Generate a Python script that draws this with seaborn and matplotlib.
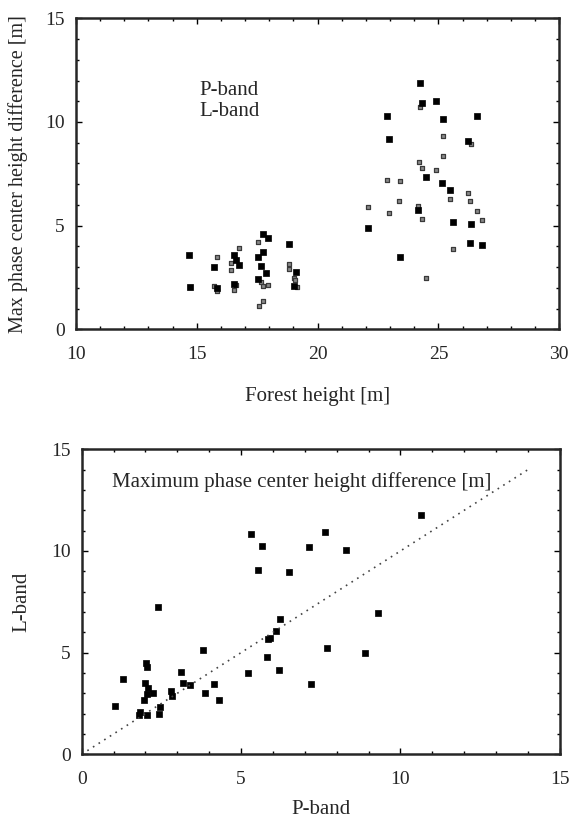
import numpy as np
import pandas as pd
import seaborn as sns
from matplotlib import pyplot as plt
from matplotlib.ticker import MultipleLocator

"""
# Data read off the reference
"""
# top: max phase center height difference vs forest height
forest_l = [14.69, 14.72, 15.71, 15.83, 16.53, 16.63, 16.75, 16.53, 17.76,
            17.96, 17.55, 17.73, 17.65, 17.86, 17.55, 18.82, 19.11, 19.01,
            24.23, 24.30, 24.89, 22.89, 25.17, 26.59, 22.95, 26.23, 24.48,
            25.16, 25.47, 24.17, 22.10, 25.62, 26.34, 26.29, 26.80, 23.39]
l_top = [3.60, 2.03, 3.02, 1.99, 3.58, 3.34, 3.10, 2.19, 4.60,
         4.39, 3.50, 3.74, 3.07, 2.72, 2.41, 4.10, 2.76, 2.10,
         11.87, 10.90, 11.03, 10.30, 10.13, 10.30, 9.17, 9.07, 7.35,
         7.04, 6.73, 5.75, 4.87, 5.19, 5.06, 4.18, 4.05, 3.50]
forest_p = [14.72, 15.83, 15.71, 15.83, 16.42, 16.42, 16.75, 16.63, 16.54,
            17.55, 17.65, 17.76, 17.96, 17.73, 17.56, 18.82, 18.83, 19.01,
            19.06, 19.14,
            24.23, 25.17, 25.17, 24.20, 24.34, 24.89, 22.89, 23.39, 25.46,
            26.23, 26.30, 23.35, 22.10, 24.16, 22.95, 24.33, 26.59, 26.81,
            25.62, 24.48, 26.34]
p_top = [2.05, 3.50, 2.10, 1.86, 3.18, 2.86, 3.94, 2.14, 1.90,
         4.23, 2.30, 2.09, 2.14, 1.37, 1.12, 3.15, 2.91, 2.49,
         2.38, 2.03,
         10.71, 9.34, 8.35, 8.09, 7.78, 7.70, 7.20, 7.15, 6.30,
         6.56, 6.20, 6.17, 5.89, 5.95, 5.60, 5.32, 5.71, 5.29,
         3.87, 2.46, 8.92]

# bottom: L-band vs P-band
p_bot = [5.53, 2.40, 5.85, 3.80, 5.80, 5.22, 1.28, 2.02, 2.06, 3.10, 1.97,
         3.19, 3.40, 4.15, 2.08, 2.24, 2.05, 2.81, 2.84, 3.86, 1.96, 4.30,
         1.05, 2.45, 1.84, 1.81, 2.04, 2.41,
         10.64, 7.63, 7.13, 8.29, 6.49, 6.23, 6.08, 5.90, 9.28, 7.71,
         5.30, 5.65, 7.20, 8.90, 6.20]
l_bot = [9.08, 7.26, 5.69, 5.13, 4.80, 3.98, 3.69, 4.51, 4.29, 4.03, 3.52,
         3.52, 3.42, 3.44, 3.28, 3.00, 2.95, 3.11, 2.85, 3.03, 2.69, 2.66,
         2.36, 2.31, 2.10, 1.92, 1.93, 2.00,
         11.79, 10.95, 10.21, 10.05, 8.98, 6.66, 6.08, 5.71, 6.97, 5.21,
         10.85, 10.25, 3.45, 5.00, 4.15]
diag = [0, 14]

top_l = pd.DataFrame({'forest': forest_l, 'diff': l_top})
top_p = pd.DataFrame({'forest': forest_p, 'diff': p_top})
bot = pd.DataFrame({'P': p_bot, 'L': l_bot})
line = pd.DataFrame({'x': diag, 'y': diag})

"""
# Style
"""
sns.set_style('ticks')
plt.rcParams['font.family'] = ['Liberation Serif', 'DejaVu Serif']


def style_axes(ax):
    for sp in ax.spines.values():
        sp.set_linewidth(1.8)
        sp.set_visible(True)
    ax.xaxis.set_major_locator(MultipleLocator(5))
    ax.yaxis.set_major_locator(MultipleLocator(5))
    ax.xaxis.set_minor_locator(MultipleLocator(1))
    ax.yaxis.set_minor_locator(MultipleLocator(1))
    ax.tick_params(which='both', direction='in', top=True, right=True,
                   labelsize=14, width=1.0, color='black')
    ax.tick_params(which='major', length=4.5)
    ax.tick_params(which='minor', length=2.2)
    ax.tick_params(axis='x', pad=12)
    ax.tick_params(axis='y', pad=8)


fig = plt.figure(figsize=(5.73, 8.22), dpi=100)
ax1 = fig.add_axes([0.1326, 0.5994, 0.976 - 0.1326, 0.9777 - 0.5994])
ax2 = fig.add_axes([0.1426, 0.0824, 0.977 - 0.1426, 0.4534 - 0.0824])

"""
# Top panel
"""
sns.scatterplot(data=top_p, x='forest', y='diff', ax=ax1, marker='s', s=10,
                color='#8a8a8a', edgecolor='#3a3a3a', linewidth=0.9)
sns.scatterplot(data=top_l, x='forest', y='diff', ax=ax1, marker='s', s=16,
                color='black', edgecolor='black', linewidth=0.5)
ax1.set_xlim(10, 30)
ax1.set_ylim(0, 15)
style_axes(ax1)
ax1.set_xlabel('Forest height [m]', fontsize=15)
ax1.set_ylabel('Max phase center height difference [m]', fontsize=14.5)
ax1.xaxis.set_label_coords(0.5, -0.185)
ax1.yaxis.set_label_coords(-0.10, 0.5)
ax1.text(0.255, 0.769, 'P-band', transform=ax1.transAxes, fontsize=15,
         va='center', ha='left')
ax1.text(0.255, 0.699, 'L-band', transform=ax1.transAxes, fontsize=15,
         va='center', ha='left')

"""
# Bottom panel
"""
sns.lineplot(data=line, x='x', y='y', ax=ax2, color='#444444',
             linestyle=(0, (1, 3)), linewidth=1.2)
sns.scatterplot(data=bot, x='P', y='L', ax=ax2, marker='s', s=16,
                color='black', edgecolor='black', linewidth=0.5)
ax2.set_xlim(0, 15)
ax2.set_ylim(0, 15)
style_axes(ax2)
ax2.set_xlabel('P-band', fontsize=15)
ax2.set_ylabel('L-band', fontsize=15)
ax2.xaxis.set_label_coords(0.5, -0.15)
ax2.yaxis.set_label_coords(-0.106, 0.5)
ax2.text(0.461, 0.893, 'Maximum phase center height difference [m]',
         transform=ax2.transAxes, fontsize=15, ha='center', va='center')

fig.savefig('out.png', dpi=100)
